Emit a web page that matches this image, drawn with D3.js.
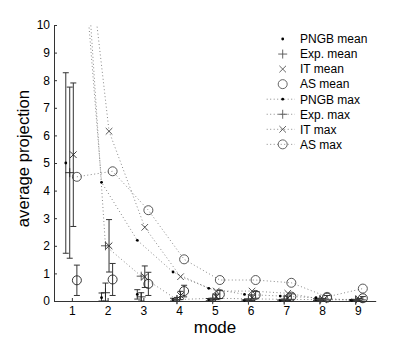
<!DOCTYPE html>
<html><head><meta charset="utf-8">
<script src="https://cdn.jsdelivr.net/npm/d3@7"></script>
<style>body{margin:0;background:#fff}svg{display:block}text{font-family:"Liberation Sans",Arial,sans-serif;fill:#000}</style>
</head><body><svg id="c" width="415" height="339"></svg>
<script>
const modes = [1,2,3,4,5,6,7,8,9];
const yTicks = [0,1,2,3,4,5,6,7,8,9,10];
const seriesNames = ["PNGB","Exp.","IT","AS"];
const markerTypes = ["dot","plus","x","o"];
const offsets = [-0.17,-0.06,0.04,0.14];
const pngbMean = [5.0,0.12,0.24,0.05,0.05,0.02,0.02,0.05,0.03];
const pngbStd  = [3.27,0.17,0.17,0.05,0.04,0.02,0.02,0.03,0.02];
const expMean  = [4.65,0.3,0.15,0.05,0.05,0.03,0.03,0.04,0.03];
const expStd   = [3.1,0.35,0.15,0.08,0.05,0.04,0.04,0.04,0.03];
const itMean   = [5.3,2.0,0.88,0.2,0.15,0.12,0.1,0.05,0.05];
const itStd    = [2.6,0.95,0.39,0.15,0.1,0.1,0.08,0.04,0.04];
const asMean   = [0.75,0.78,0.62,0.36,0.24,0.22,0.16,0.12,0.1];
const asStd    = [0.55,0.58,0.42,0.21,0.15,0.12,0.1,0.08,0.06];
const pngbMax  = [20.4,4.3,2.2,1.05,0.46,0.24,0.18,0.12,0.03];
const expMax   = [21.5,2.0,0.9,0.05,0.1,0.08,0.06,0.05,0.04];
const itMax    = [17.5,6.15,2.67,0.88,0.36,0.36,0.28,0.05,0.06];
const asMax    = [4.5,4.7,3.29,1.51,0.76,0.76,0.66,0.15,0.45];
const legendLabels = ["PNGB mean","Exp. mean","IT mean","AS mean","PNGB max","Exp. max","IT max","AS max"];

const means = [pngbMean,expMean,itMean,asMean];
const stds = [pngbStd,expStd,itStd,asStd];
const maxes = [pngbMax,expMax,itMax,asMax];

const svg = d3.select("#c");
const x = d3.scaleLinear().domain([0.5,9.5]).range([54,375.7]);
const y = d3.scaleLinear().domain([0,10]).range([301,25]);

svg.append("defs").append("clipPath").attr("id","clip").append("rect")
  .attr("x",54).attr("y",25).attr("width",330).attr("height",320);

function marker(g, type, cx, cy, col){
  if(type==="dot") g.append("circle").attr("cx",cx).attr("cy",cy).attr("r",1.4).attr("fill","#000");
  else if(type==="plus") g.append("path").attr("d",`M${cx-4.5},${cy}H${cx+4.5}M${cx},${cy-4.5}V${cy+4.5}`).attr("stroke",col).attr("stroke-width",0.9).attr("fill","none");
  else if(type==="x") g.append("path").attr("d",`M${cx-3.3},${cy-3.3}L${cx+3.3},${cy+3.3}M${cx-3.3},${cy+3.3}L${cx+3.3},${cy-3.3}`).attr("stroke",col).attr("stroke-width",0.9).attr("fill","none");
  else g.append("circle").attr("cx",cx).attr("cy",cy).attr("r",4.5).attr("fill","none").attr("stroke",col).attr("stroke-width",0.9);
}

// axes
const ya = svg.append("g").attr("transform","translate(54,0)")
  .call(d3.axisLeft(y).tickValues(yTicks).tickFormat(d3.format("d")).tickSizeInner(-3).tickSizeOuter(0).tickPadding(4));
const xa = svg.append("g").attr("transform","translate(0,301)")
  .call(d3.axisBottom(x).tickValues(modes).tickFormat(d3.format("d")).tickSizeInner(-3).tickSizeOuter(0).tickPadding(5.5));
[ya,xa].forEach(a=>{a.selectAll("path,line").attr("stroke","#333");a.selectAll("text").attr("font-size",12).attr("font-family","Liberation Sans, Arial, sans-serif");});

// max lines
const plot = svg.append("g");
maxes.forEach((arr,si)=>{
  const line = d3.line().x((d,i)=>x(modes[i]+offsets[si])).y(d=>y(d));
  plot.append("path").attr("clip-path","url(#clip)").attr("d",line(arr))
    .attr("fill","none").attr("stroke","#888").attr("stroke-width",1).attr("stroke-dasharray","1,2.5");
});

// means with error bars
means.forEach((arr,si)=>{
  arr.forEach((m,i)=>{
    const cx = x(modes[i]+offsets[si]);
    const lo = Math.max(0,m-stds[si][i]), hi = m+stds[si][i];
    plot.append("path").attr("d",`M${cx},${y(lo)}V${y(hi)}M${cx-3},${y(lo)}H${cx+3}M${cx-3},${y(hi)}H${cx+3}`)
      .attr("stroke","#333").attr("stroke-width",1).attr("fill","none");
    marker(plot, markerTypes[si], cx, y(m), "#222");
  });
});
// max markers
maxes.forEach((arr,si)=>{
  const g = plot.append("g").attr("clip-path","url(#clip)");
  arr.forEach((v,i)=>{ if(v<=10) marker(g, markerTypes[si], x(modes[i]+offsets[si]), y(v), "#444"); });
});

// labels
svg.append("text").attr("x",215).attr("y",333).attr("text-anchor","middle").attr("font-size",17).text("mode");
svg.append("text").attr("transform","translate(29,158.5) rotate(-90)").attr("text-anchor","middle").attr("font-size",16.7).text("average projection");

// legend
const lg = svg.append("g");
legendLabels.forEach((lab,i)=>{
  const cy = 39 + i*15.05;
  const si = i%4;
  if(i>=4) lg.append("path").attr("d",`M266.7,${cy}H295`).attr("stroke","#888").attr("stroke-width",1).attr("stroke-dasharray","1,2.5");
  marker(lg, markerTypes[si], 282.7, cy, "#555");
  lg.append("text").attr("x",300).attr("y",cy).attr("dy","0.36em").attr("font-size",12).text(lab);
});
</script></body></html>
